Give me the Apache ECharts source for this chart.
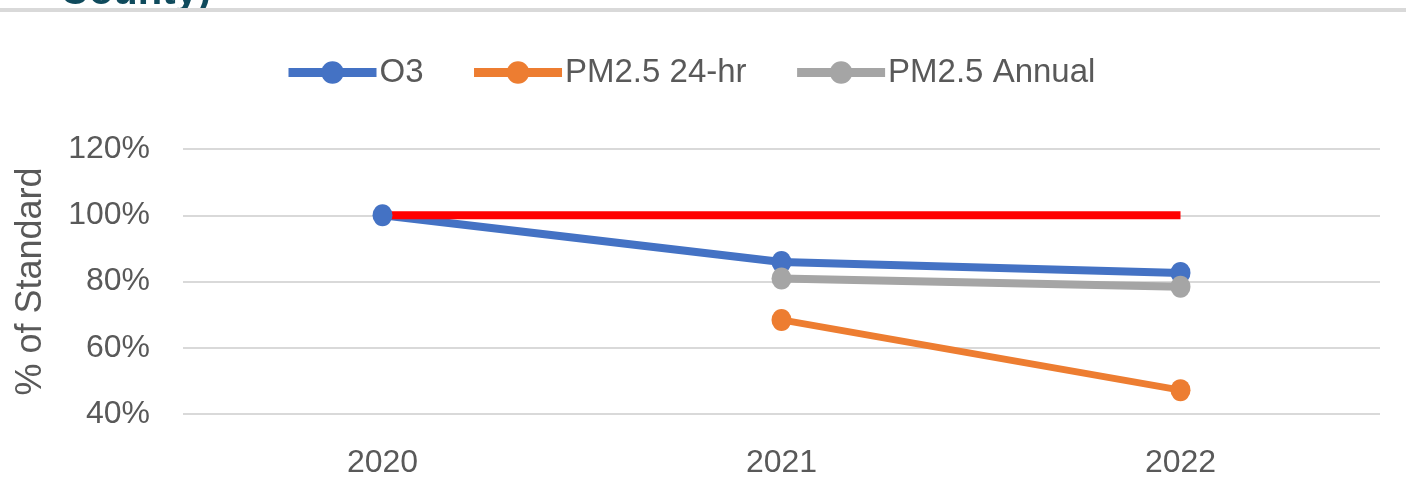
<!DOCTYPE html>
<html>
<head>
<meta charset="utf-8">
<script src="https://cdn.jsdelivr.net/npm/echarts@6/dist/echarts.min.js"></script>
<style>
html,body{margin:0;padding:0;background:#fff;}
#main{width:1406px;height:498px;}
</style>
</head>
<body>
<div id="main"></div>
<script>
const years = ['2020', '2021', '2022'];
const o3 = [100, 85.9, 82.6];
const pm25_24hr = [null, 68.4, 47.2];
const pm25_annual = [null, 80.9, 78.4];
const standard = [100, 100, 100];
const yTicks = [40, 60, 80, 100, 120];

const FONT = '"Liberation Sans", Arial, sans-serif';
const TXT = '#595959';

const chart = echarts.init(document.getElementById('main'), null, {renderer: 'canvas'});

function lineSeries(name, data, color, width, showSymbol) {
  return {
    name: name,
    type: 'line',
    data: data,
    symbol: 'circle',
    symbolSize: [20, 22],
    showSymbol: showSymbol,
    connectNulls: false,
    itemStyle: {color: color},
    lineStyle: {color: color, width: width},
    emphasis: {disabled: true},
    z: 2
  };
}

const option = {
  animation: false,
  backgroundColor: '#ffffff',
  graphic: [
    {
      type: 'text',
      left: 60,
      top: -27,
      style: {
        text: 'County)',
        font: 'bold 40px ' + FONT,
        fill: '#0f4a5c'
      },
      z: 1
    },
    {
      type: 'rect',
      shape: {x: 0, y: 8, width: 1406, height: 4},
      style: {fill: '#d9d9d9'},
      z: 2
    }
  ],
  legend: {
    top: 51,
    left: 279,
    itemWidth: 88,
    itemHeight: 28,
    itemGap: 46,
    lineStyle: {width: 9},
    textStyle: {fontFamily: FONT, fontSize: 33, color: TXT, padding: [0, 0, 0, -2]},
    data: ['O3', 'PM2.5 24-hr', 'PM2.5 Annual']
  },
  grid: {
    left: 183,
    right: 26,
    top: 149,
    bottom: 84,
    containLabel: false
  },
  xAxis: {
    type: 'category',
    data: years,
    boundaryGap: true,
    axisLine: {show: false},
    axisTick: {show: false},
    axisLabel: {fontFamily: FONT, fontSize: 32, color: TXT, margin: 33}
  },
  yAxis: {
    type: 'value',
    min: yTicks[0],
    max: yTicks[yTicks.length - 1],
    interval: 20,
    name: '% of Standard',
    nameLocation: 'middle',
    nameGap: 134,
    nameTextStyle: {fontFamily: FONT, fontSize: 36, color: TXT},
    axisLine: {show: false},
    axisTick: {show: false},
    axisLabel: {
      fontFamily: FONT, fontSize: 32, color: TXT, margin: 33,
      formatter: function (v) { return v + '%'; }
    },
    splitLine: {lineStyle: {color: '#d9d9d9', width: 2}}
  },
  series: [
    lineSeries('O3', o3, '#4472c4', 8, true),
    lineSeries('PM2.5 24-hr', pm25_24hr, '#ed7d31', 7, true),
    lineSeries('PM2.5 Annual', pm25_annual, '#a5a5a5', 8, true),
    Object.assign(lineSeries('Standard', standard, '#ff0000', 8, false), {symbol: 'none'})
  ]
};

chart.setOption(option);
</script>
</body>
</html>
